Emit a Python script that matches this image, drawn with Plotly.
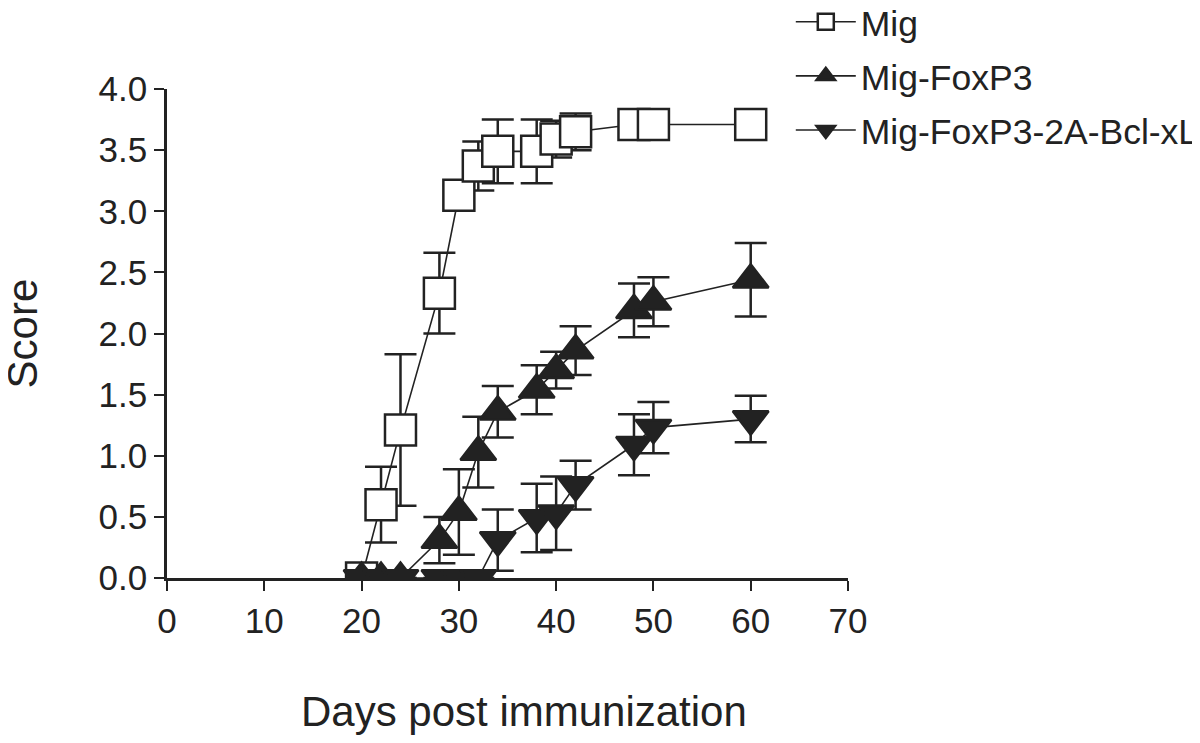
import plotly.graph_objects as go

days = [20, 22, 24, 28, 30, 32, 34, 38, 40, 42, 48, 50, 60]

mig = [0, 0.60, 1.21, 2.33, 3.13, 3.37, 3.49, 3.49, 3.59, 3.65, 3.71, 3.71, 3.71]
mig_err = [0, 0.31, 0.62, 0.33, 0.08, 0.20, 0.26, 0.26, 0.15, 0.15, 0, 0, 0]

foxp3 = [0, 0, 0, 0.31, 0.54, 1.03, 1.36, 1.54, 1.70, 1.86, 2.19, 2.26, 2.44]
foxp3_err = [0, 0, 0, 0.19, 0.35, 0.29, 0.21, 0.20, 0.15, 0.20, 0.22, 0.20, 0.30]

bcl = [0, 0, 0, 0, 0, 0, 0.31, 0.49, 0.53, 0.76, 1.09, 1.23, 1.30]
bcl_err = [0, 0, 0, 0, 0, 0, 0.25, 0.28, 0.30, 0.20, 0.25, 0.21, 0.19]

x_ticks = [0, 10, 20, 30, 40, 50, 60, 70]
y_ticks = [0.0, 0.5, 1.0, 1.5, 2.0, 2.5, 3.0, 3.5, 4.0]

INK = "#222222"
FONT = "Liberation Sans, Arial, sans-serif"

series = [
    ("Mig", mig, mig_err, "square", "white", 31),
    ("Mig-FoxP3", foxp3, foxp3_err, "triangle-up", INK, 31),
    ("Mig-FoxP3-2A-Bcl-xL", bcl, bcl_err, "triangle-down", INK, 31),
]

fig = go.Figure()
for i, (name, vals, errs, sym, fill, size) in enumerate(series):
    fig.add_trace(go.Scatter(
        x=days, y=vals, name=name, mode="lines+markers",
        legendgroup=f"g{i}",
        line=dict(color=INK, width=1.6),
        marker=dict(symbol=sym, size=size, color=fill,
                    line=dict(color=INK, width=2.5)),
        error_y=dict(type="data", array=errs, visible=True,
                     color=INK, thickness=2.5, width=16),
        cliponaxis=True,
    ))

fig.update_layout(
    width=1200, height=743,
    paper_bgcolor="white", plot_bgcolor="white",
    margin=dict(l=159, r=360, t=81, b=173, autoexpand=False),
    font=dict(family=FONT, color=INK, size=35),
    showlegend=True,
    legend=dict(x=0.916, y=1.198, xanchor="left", yanchor="top",
                font=dict(size=35.5, family=FONT, color=INK),
                bgcolor="rgba(0,0,0,0)", itemwidth=60,
                tracegroupgap=5, traceorder="grouped"),
    xaxis=dict(range=[0, 70], tickvals=x_ticks, ticks="outside", ticklen=10,
               tickwidth=2, tickcolor=INK, showline=True, linewidth=2.5,
               linecolor=INK, showgrid=False, zeroline=False,
               tickfont=dict(size=35, family=FONT, color=INK)),
    yaxis=dict(range=[0, 4], tickvals=y_ticks, tickformat=".1f", ticks="outside",
               ticklen=10, tickwidth=2, tickcolor=INK, showline=True,
               linewidth=2.5, linecolor=INK, showgrid=False, zeroline=False,
               tickfont=dict(size=35, family=FONT, color=INK)),
    annotations=[
        dict(text="Days post immunization", x=0.524, y=-0.274,
             xref="paper", yref="paper", xanchor="center", yanchor="middle",
             showarrow=False, font=dict(size=42, family=FONT, color=INK)),
        dict(text="Score", x=-0.2115, y=0.5, xref="paper", yref="paper",
             xanchor="center", yanchor="middle", textangle=-90,
             showarrow=False, font=dict(size=42, family=FONT, color=INK)),
    ],
)

fig.write_html("out.html")
